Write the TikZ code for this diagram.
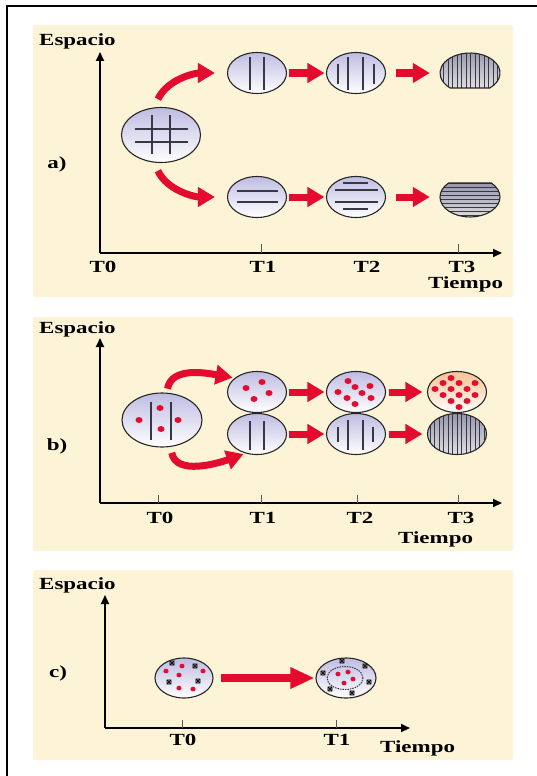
\documentclass[tikz,border=0pt]{standalone}
\usepackage{fontspec}
\setmainfont{Liberation Serif}[FakeStretch=1.35]
\usetikzlibrary{arrows.meta,shapes.geometric}

\definecolor{panelbg}{RGB}{253,243,214}
\definecolor{arrowred}{RGB}{228,12,46}
\definecolor{lilac}{RGB}{190,188,226}
\definecolor{inkgray}{RGB}{55,55,70}
\definecolor{peach}{RGB}{246,194,148}
\definecolor{slate}{RGB}{150,150,172}

\tikzset{
  panel/.style={fill=panelbg, rounded corners=2pt},
  lbl/.style={font=\bfseries\fontsize{17}{20}\selectfont, inner sep=0pt},
  axisline/.style={line width=2pt, -{Triangle[length=9pt,width=8pt]}},
  notch/.style={line width=0.9pt, black!65},
  cell/.style={ellipse, draw=black!85, line width=1.1pt, top color=lilac, bottom color=white,
    minimum width=59pt, minimum height=41pt, inner sep=0pt},
  bigcell/.style={cell, minimum width=79pt, minimum height=55pt},
  spot/.style={ellipse, minimum width=60pt, minimum height=40pt, inner sep=0pt},
  dense/.style={draw=black!85, line width=1.1pt, top color=slate, bottom color=black!12},
  bar/.style={line width=1.4pt, inkgray},
  fine/.style={line width=1pt, inkgray},
  push/.style={line width=7pt, arrowred, -{Triangle[length=17pt,width=19pt]}},
  vstripes/.style={path picture={\foreach \s in {-27,-22.5,...,27}
    \draw[fine] ([xshift=\s pt]path picture bounding box.north) -- ([xshift=\s pt]path picture bounding box.south);}},
  hstripes/.style={path picture={\foreach \s in {-18,-14,...,18}
    \draw[fine] ([yshift=\s pt]path picture bounding box.west) -- ([yshift=\s pt]path picture bounding box.east);}},
}

\begin{document}
\begin{tikzpicture}[x=1pt,y=1pt]
\useasboundingbox (0,0) rectangle (537,-776);
\draw[line width=1.6pt] (7,-776) -- (7,-6) -- (537,-6);

% a) two stripe directions split off from the grid
\fill[panel] (33,-25) rectangle (513,-297);
\node[lbl, anchor=base west] (ea) at (39,-46) {Espacio};
\node[lbl, anchor=base] (la) at (57,-168) {a)};
\coordinate (oa) at (100,-253);
\coordinate (ya) at (100,-52);
\coordinate (xa) at (502,-253);
\draw[axisline] (oa) -- (ya);
\draw[axisline] (oa) -- (xa);
\foreach \x in {261,458} \draw[notch] (\x,-253) -- (\x,-244);
\node[lbl, anchor=base] (ta0) at (103,-272) {T0};
\node[lbl, anchor=base] (ta1) at (263,-272) {T1};
\node[lbl, anchor=base] (ta2) at (367,-272) {T2};
\node[lbl, anchor=base] (ta3) at (462,-272) {T3};
\node[lbl, anchor=base west] (tia) at (428,-288) {Tiempo};

\node[bigcell] (a0) at (161,-135) {};
\draw[bar] (152,-115) -- (152,-154) (170,-115) -- (170,-154)
  (135,-129) -- (188,-129) (135,-142) -- (188,-142);

\node[cell] (au1) at (257,-73) {};
\draw[bar] (250,-57) -- (250,-90) (264,-57) -- (264,-90);
\node[cell] (au2) at (356,-73) {};
\draw[bar] (338,-64) -- (338,-84) (348,-57) -- (348,-90)
  (363,-57) -- (363,-90) (374,-64) -- (374,-84);
\node[spot] (au3) at (470,-73) {};
\draw[dense, vstripes] ([shift={(-48.6:30 and 20)}]au3.center)
  arc[start angle=-48.6, end angle=228.6, x radius=30, y radius=20] -- cycle;

\node[cell] (ad1) at (257,-197) {};
\draw[bar] (237,-191) -- (278,-191) (237,-202) -- (278,-202);
\node[cell] (ad2) at (356,-197) {};
\draw[bar] (343,-183) -- (368,-183) (335,-190) -- (378,-190)
  (335,-202) -- (378,-202) (343,-209) -- (368,-209);
\node[spot] (ad3) at (470,-197) {};
\draw[dense, hstripes] ([shift={(135.6:30 and 20)}]ad3.center)
  arc[start angle=135.6, end angle=404.4, x radius=30, y radius=20] -- cycle;

\draw[push, shorten <=9pt, shorten >=12pt] (a0.104) to[out=65,in=180] (au1.west);
\draw[push, shorten <=9pt, shorten >=12pt] (a0.-104) to[out=-65,in=180] (ad1.west);
\draw[push, shorten <=1.5pt, shorten >=1.5pt] (au1) -- (au2);
\draw[push, shorten <=10pt, shorten >=10pt] (au2) -- (au3);
\draw[push, shorten <=1.5pt, shorten >=1.5pt] (ad1) -- (ad2);
\draw[push, shorten <=10pt, shorten >=10pt] (ad2) -- (ad3);

% b) dots and stripes growing side by side
\fill[panel] (33,-317) rectangle (513,-551);
\node[lbl, anchor=base west] (eb) at (39,-333) {Espacio};
\node[lbl, anchor=base] (lb) at (57,-450) {b)};
\coordinate (ob) at (100,-503);
\coordinate (yb) at (100,-338);
\coordinate (xb) at (502,-503);
\draw[axisline] (ob) -- (yb);
\draw[axisline] (ob) -- (xb);
\foreach \x in {158,261,357,458} \draw[notch] (\x,-503) -- (\x,-495);
\node[lbl, anchor=base] (tb0) at (160,-523) {T0};
\node[lbl, anchor=base] (tb1) at (263,-523) {T1};
\node[lbl, anchor=base] (tb2) at (360,-523) {T2};
\node[lbl, anchor=base] (tb3) at (461,-523) {T3};
\node[lbl, anchor=base west] (tib) at (398,-543) {Tiempo};

\node[bigcell, minimum width=80pt, minimum height=54pt] (b0) at (162,-420) {};
\draw[bar] (151,-402) -- (151,-440) (171,-402) -- (171,-440);
\foreach \x/\y in {139/420,160/408,178/420,161/429}
  \fill[arrowred] (\x,-\y) ellipse[x radius=3.5, y radius=3];

\node[cell] (bu1) at (257,-392) {};
\foreach \x/\y in {246/388,262/382,269/393,254/399}
  \fill[arrowred] (\x,-\y) ellipse[x radius=3.5, y radius=3];
\node[cell] (bu2) at (356,-392) {};
\foreach \x/\y in {348/381,355/387,370/386,338/392,362/393,347/398,371/398,355/404}
  \fill[arrowred] (\x,-\y) ellipse[x radius=3.5, y radius=3];
\node[cell, top color=peach] (bu3) at (457,-392) {};
\foreach \x/\y in {451/378,443/383,459/383,475/383,435/389,451/389,467/389,
    443/395,459/395,475/395,451/401,467/401,459/407}
  \fill[arrowred] (\x,-\y) ellipse[x radius=3.5, y radius=3];

\node[cell] (bd1) at (257,-434) {};
\draw[bar] (250,-421) -- (250,-450) (264,-421) -- (264,-450);
\node[cell] (bd2) at (356,-434) {};
\draw[bar] (338,-427) -- (338,-442) (348,-420) -- (348,-450)
  (363,-420) -- (363,-450) (373,-427) -- (373,-442);
\node[cell, top color=slate, bottom color=black!12, vstripes] (bd3) at (457,-434) {};

\draw[push, shorten <=4pt, shorten >=2pt] (b0.80) to[out=80,in=170] (bu1.148);
\draw[push, shorten <=6pt, shorten >=2pt] (b0.-72) to[out=-80,in=200] (bd1.239);
\draw[push, shorten <=1.5pt, shorten >=1.5pt] (bu1) -- (bu2);
\draw[push, shorten <=2.5pt, shorten >=4.5pt] (bu2) -- (bu3);
\draw[push, shorten <=1.5pt, shorten >=1.5pt] (bd1) -- (bd2);
\draw[push, shorten <=2.5pt, shorten >=4.5pt] (bd2) -- (bd3);

% c) red dots gather inside a dashed ring
\fill[panel] (33,-570) rectangle (513,-760);
\node[lbl, anchor=base west] (ec) at (39,-589) {Espacio};
\node[lbl, anchor=base] (lc) at (58,-677) {c)};
\coordinate (oc) at (105,-728);
\coordinate (yc) at (105,-595);
\coordinate (xc) at (410,-728);
\draw[axisline] (oc) -- (yc);
\draw[axisline] (oc) -- (xc);
\foreach \x in {182,336} \draw[notch] (\x,-728) -- (\x,-720);
\node[lbl, anchor=base] (tc0) at (183,-745) {T0};
\node[lbl, anchor=base] (tc1) at (337,-745) {T1};
\node[lbl, anchor=base west] (tic) at (380,-752) {Tiempo};

\node[cell, minimum width=58pt, minimum height=40pt] (c0) at (184,-678) {};
\node[cell, minimum width=60pt, minimum height=40pt] (c1) at (346,-678) {};
\draw[fine, dash pattern=on 1.5pt off 1pt] (345,-678) ellipse[x radius=18, y radius=11.5];
\foreach \x/\y in {182/666,166/671,203/671,179/675,179/688,193/689,
    338/674,348/672,353/679,344/683}
  \fill[arrowred] (\x,-\y) ellipse[x radius=2.6, y radius=2.3];
\foreach \x/\y in {172/663,195/666,169/682,198/681,
    342/661,365/666,323/673,369/682,330/689,352/693}
  \draw[line width=0.5pt, fill=black!50] (\x-2.2,-\y-2.2) rectangle (\x+2.2,-\y+2.2)
    (\x-2.2,-\y-2.2) -- (\x+2.2,-\y+2.2) (\x-2.2,-\y+2.2) -- (\x+2.2,-\y-2.2);

\draw[push, line width=8pt, -{Triangle[length=24pt,width=20pt]}, shorten <=7pt, shorten >=1pt] (c0) -- (c1);
\end{tikzpicture}
\end{document}
